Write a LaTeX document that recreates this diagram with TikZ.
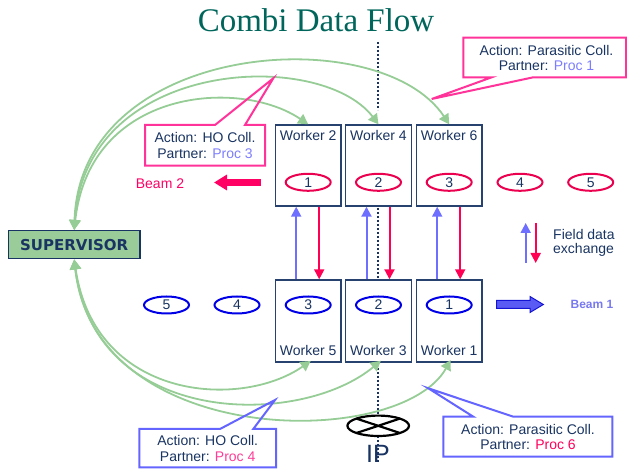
\documentclass[tikz,border=0pt]{standalone}
\usepackage{fontspec}
\setmainfont{Liberation Sans}
\newfontfamily\titlefont{Liberation Serif}
\newfontfamily\supfont{DejaVu Sans}
\usetikzlibrary{arrows.meta,calc,shapes.geometric,positioning}
\definecolor{navy}{RGB}{25,52,98}
\definecolor{boxline}{RGB}{40,66,112}
\definecolor{titleteal}{RGB}{0,102,92}
\definecolor{flowgreen}{RGB}{150,205,150}
\definecolor{supgreen}{RGB}{153,204,153}
\definecolor{ringred}{RGB}{235,0,80}
\definecolor{ringblue}{RGB}{0,0,230}
\definecolor{beamred}{RGB}{255,0,100}
\definecolor{fieldblue}{RGB}{110,110,255}
\definecolor{fieldred}{RGB}{255,0,85}
\definecolor{procblue}{RGB}{125,125,255}
\definecolor{procpink}{RGB}{255,60,150}
\definecolor{procred}{RGB}{255,0,90}
\definecolor{callpink}{RGB}{255,51,153}
\definecolor{callblue}{RGB}{100,100,255}
\definecolor{beamblue}{RGB}{90,90,245}
\definecolor{beamblueline}{RGB}{20,20,210}
\definecolor{beamonetext}{RGB}{120,120,240}

\tikzset{
  >={Triangle[length=10pt,width=10pt]},
  worker/.style={draw=boxline, line width=1.4pt, fill=white, inner sep=0pt,
    minimum width=65.5pt, minimum height=81pt},
  wtext/.style={text=navy, font=\fontsize{14}{15}\selectfont, inner sep=0pt},
  ring/.style={ellipse, line width=2pt, minimum width=45pt, minimum height=17pt,
    inner sep=0pt, fill=white, text=navy, font=\fontsize{14}{15}\selectfont},
  redring/.style={ring, draw=ringred},
  bluering/.style={ring, draw=ringblue},
  flow/.style={draw=flowgreen, line width=1.8pt, <->,
    >={Triangle[length=10pt,width=11pt]}},
  callout/.style={line width=2pt, line join=miter},
  calltext/.style={text=navy, align=center, inner sep=0pt,
    font=\fontsize{14}{15.6}\selectfont},
  ipaxis/.style={draw=navy, line width=2pt, dotted}
}

\begin{document}
\begin{tikzpicture}[x=1pt,y=-1pt]
\useasboundingbox (0,0) rectangle (627,470);

\node[anchor=base, text=titleteal, inner sep=0pt,
  font=\titlefont\fontsize{33}{36}\selectfont] (title) at (316,32) {Combi Data Flow};

% interaction point axis
\draw[ipaxis] (378,42) -- (378,110);
\draw[ipaxis] (378,200) -- (378,462);

% workers, beam 2 on top, beam 1 below
\foreach \n/\x/\t in {w2/308.2/Worker 2, w4/378.5/Worker 4, w6/449.2/Worker 6}{
  \node[worker] (\n) at (\x,165.5) {};
  \node[wtext, anchor=base] at ($(\n.north)+(0,16.7)$) {\t};
}
\foreach \n/\x/\t in {w5/308.2/Worker 5, w3/378.5/Worker 3, w1/449.2/Worker 1}{
  \node[worker, minimum height=82pt] (\n) at (\x,321) {};
  \node[wtext, anchor=base] at ($(\n.south)+(0,-7)$) {\t};
}

\node[redring] (r1) at (308.2,182.3) {1};
\node[redring] (r2) at (378.5,182.3) {2};
\node[redring] (r3) at (449.2,182.3) {3};
\node[redring] (r4) at (520,182.3) {4};
\node[redring] (r5) at (590.7,182.3) {5};

\node[bluering] (b5) at (166.5,305) {5};
\node[bluering] (b4) at (237,305) {4};
\node[bluering] (b3) at (308.2,305) {3};
\node[bluering] (b2) at (378.5,305) {2};
\node[bluering] (b1) at (449.2,305) {1};

% field data exchange
\foreach \up/\dn in {w5/w2, w3/w4, w1/w6}{
  \draw[fieldblue, line width=2pt, ->] ($(\up.north)+(-12,0)$) -- ($(\dn.south)+(-12,0)$);
  \draw[fieldred, line width=2pt, ->] ($(\dn.south)+(11,0)$) -- ($(\up.north)+(11,0)$);
}
\draw[fieldblue, line width=2pt, ->] (525.7,263) -- (525.7,223);
\draw[fieldred, line width=2pt, ->] (535.7,223) -- (535.7,263);
\node[anchor=west, align=left, text=navy, inner sep=0pt,
  font=\fontsize{14}{14}\selectfont] (legend) at (553,243) {Field data\\exchange};

% beams
\node[text=beamred, inner sep=0pt, font=\fontsize{14}{15}\selectfont] (beam2) at (160,184) {Beam 2};
\draw[beamred, line width=7pt, -{Triangle[length=13pt,width=15pt]}] (260.7,182.5) -- (214,182.5);
\filldraw[fill=beamblue, draw=beamblueline, line width=1pt]
  (496.7,300.5) -- (530,300.5) -- (530,296.5) -- (543.3,304.5) -- (530,312.5)
  -- (530,308.5) -- (496.7,308.5) -- cycle;
\node[text=beamonetext, inner sep=0pt, font=\bfseries\fontsize{12}{13}\selectfont] (beam1) at (592,304.5) {Beam 1};

% supervisor
\node[draw=navy, line width=1.4pt, fill=supgreen, inner sep=0pt,
  minimum width=131.7pt, minimum height=28pt, text=navy,
  font=\supfont\bfseries\fontsize{15}{16}\selectfont] (sup) at (74.2,244.7) {SUPERVISOR};

\draw[flow] (sup.north) .. controls (80,40) and (380,20) .. (w6.north);
\draw[flow] (sup.north) .. controls (85,58) and (320,48) .. (w4.north);
\draw[flow] (sup.north) .. controls (90,88) and (240,78) .. (w2.north);
\draw[flow, shorten >=-3pt] (sup.south) .. controls (95,400) and (240,410) .. (w5.south);
\draw[flow, shorten >=-3pt] (sup.south) .. controls (95,428) and (300,428) .. (w3.south);
\draw[flow, shorten >=-3pt] (sup.south) .. controls (95,450) and (400,450) .. (w1.south);

% IP
\node[ellipse, draw=black, line width=2.2pt, fill=white, inner sep=0pt, outer sep=0pt,
  minimum width=61.6pt, minimum height=20.4pt] (ip) at (378.2,425.8) {};
\draw[line width=2.2pt] (ip.north west) -- (ip.south east) (ip.north east) -- (ip.south west);
\node[anchor=base, text=navy, inner sep=0pt, font=\fontsize{25}{26}\selectfont] (iptext) at (378,463) {IP};

% callouts
\node[calltext] (c1) at (205,145.5) {Action: HO Coll.\\Partner: \textcolor{procblue}{Proc 3}};
\draw[callout, draw=callpink] (145,125) -- (215,125) -- (273.3,78.3) -- (245,125) -- (265,125)
  -- (265,165.7) -- (145,165.7) -- cycle;

\node[calltext] (c2) at (546.5,58) {Action: Parasitic Coll.\\Partner: \textcolor{procblue}{Proc 1}};
\draw[callout, draw=callpink] (463.3,37.7) -- (626,37.7) -- (626,77.3) -- (533.3,77.3)
  -- (431.7,99) -- (491.7,77.3) -- (463.3,77.3) -- cycle;

\node[calltext] (c3) at (207.7,448.3) {Action: HO Coll.\\Partner: \textcolor{procpink}{Proc 4}};
\draw[callout, draw=callblue] (139.3,429) -- (220,429) -- (275,400) -- (253.3,429) -- (276,429)
  -- (276,467.3) -- (139.3,467.3) -- cycle;

\node[calltext] (c4) at (528,437) {Action: Parasitic Coll.\\Partner: \textcolor{procred}{Proc 6}};
\draw[callout, draw=callblue] (443.3,416.7) -- (473.3,416.7) -- (428.3,388.3) -- (513.3,416.7)
  -- (612.3,416.7) -- (612.3,456.7) -- (443.3,456.7) -- cycle;
\end{tikzpicture}
\end{document}
